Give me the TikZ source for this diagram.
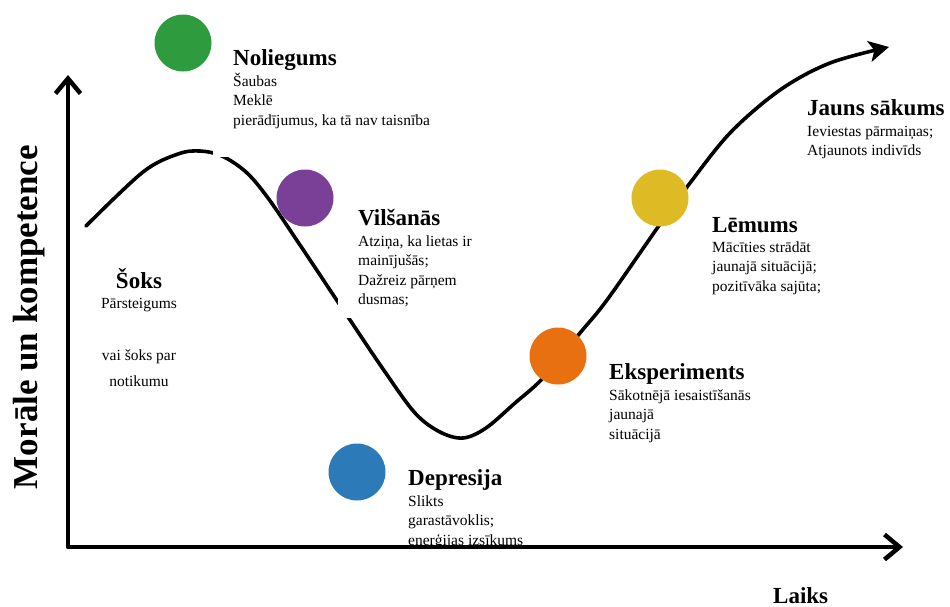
\documentclass[tikz,border=0pt]{standalone}
\usepackage{fontspec}
\setmainfont{Liberation Serif}
\usetikzlibrary{arrows.meta}

\definecolor{stgreen}{RGB}{46,156,62}
\definecolor{stpurple}{RGB}{122,64,152}
\definecolor{stblue}{RGB}{44,122,184}
\definecolor{storange}{RGB}{232,112,16}
\definecolor{styellow}{RGB}{222,186,36}

\begin{document}
\begin{tikzpicture}[x=1pt,y=-1pt,
  stage/.style={circle, inner sep=0pt, minimum size=57pt},
  head/.style={anchor=base west, inner sep=0pt, font=\fontsize{23}{27}\selectfont\bfseries},
  body/.style={anchor=base west, inner sep=0pt, font=\fontsize{15.5}{19.5}\selectfont},
  axisline/.style={line width=4.5pt, line join=round,
    {Straight Barb[length=15pt,width=25pt]}-{Straight Barb[length=15pt,width=25pt]}},
  curveline/.style={line width=3.6pt, line cap=round,
    -{Stealth[length=20pt,width=21pt,inset=5pt]}},
  patch/.style={fill=white, draw=none}
]
\useasboundingbox (0,0) rectangle (950,606);

% axes
\coordinate (ytip) at (68,75);
\coordinate (origin) at (68,547);
\coordinate (xtip) at (903,547);
\draw[axisline] (ytip) -- (origin) -- (xtip);

% change curve
\draw[curveline] plot[smooth, tension=0.55] coordinates {
  (86,226) (143,172) (178,154) (200,151) (222,156) (246,172) (268,198)
  (300,245) (340,305) (383,369) (415,413) (440,432) (463,438)
  (486,428) (515,403) (543,378) (580,333) (607,300) (658,227)
  (687,187) (730,133) (780,90) (830,63) (889,47)};

% white label backgrounds
\fill[patch] (213,30) rectangle (450,157);
\fill[patch] (338,192) rectangle (525,318);

% stage markers
\node[stage, fill=stgreen]  (cden) at (183,43) {};
\node[stage, fill=stpurple] (cvil) at (305,198) {};
\node[stage, fill=stblue]   (cdep) at (357,472) {};
\node[stage, fill=storange] (ceks) at (558,356) {};
\node[stage, fill=styellow] (clem) at (660,198) {};

% axis titles
\node[rotate=90, anchor=base, inner sep=0pt, font=\fontsize{35}{40}\selectfont\bfseries]
  (ylab) at (37,317) {Morāle un kompetence};
\node[head] (xlab) at (773,603) {Laiks};

% stage texts
\node[head] (hden) at (233,65) {Noliegums};
\node[body] (tden) at (233,86) {\begin{tabular}[t]{@{}l@{}}Šaubas\\Meklē\\pierādījumus, ka tā nav taisnība\end{tabular}};

\node[head] (hvil) at (358,225) {Vilšanās};
\node[body] (tvil) at (358,246) {\begin{tabular}[t]{@{}l@{}}Atziņa, ka lietas ir\\mainījušās;\\Dažreiz pārņem\\dusmas;\end{tabular}};

\node[head, anchor=base] (hsok) at (139,288) {Šoks};
\node[body, anchor=base, font=\fontsize{15.5}{26}\selectfont] (tsok) at (139,308)
  {\begin{tabular}[t]{@{}c@{}}Pārsteigums\\ \\vai šoks par\\notikumu\end{tabular}};

\node[head] (hdep) at (408,485) {Depresija};
\node[body] (tdep) at (408,506) {\begin{tabular}[t]{@{}l@{}}Slikts\\garastāvoklis;\\enerģijas izsīkums\end{tabular}};

\node[head] (heks) at (609,379) {Eksperiments};
\node[body] (teks) at (609,400) {\begin{tabular}[t]{@{}l@{}}Sākotnējā iesaistīšanās\\jaunajā\\situācijā\end{tabular}};

\node[head] (hlem) at (712,232) {Lēmums};
\node[body] (tlem) at (712,252) {\begin{tabular}[t]{@{}l@{}}Mācīties strādāt\\jaunajā situācijā;\\pozitīvāka sajūta;\end{tabular}};

\node[head] (hjau) at (807,115) {Jauns sākums};
\node[body] (tjau) at (807,136) {\begin{tabular}[t]{@{}l@{}}Ieviestas pārmaiņas;\\Atjaunots indivīds\end{tabular}};
\end{tikzpicture}
\end{document}
